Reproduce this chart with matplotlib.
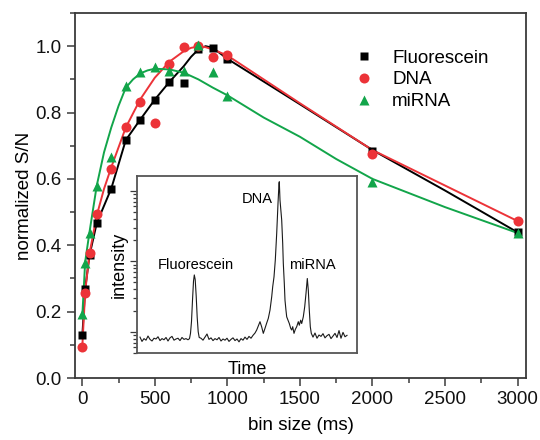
import matplotlib
matplotlib.use("Agg")
import matplotlib.pyplot as plt
from matplotlib.ticker import MultipleLocator, LogLocator, NullFormatter, NullLocator

plt.rcParams["font.family"] = ["Liberation Sans", "DejaVu Sans"]

# measured points (bin size in ms, normalized S/N)
fluo_x = [1, 20, 50, 100, 200, 300, 400, 500, 600, 700, 800, 900, 1000, 2000, 3000]
fluo_y = [0.131, 0.268, 0.37, 0.467, 0.571, 0.717, 0.779, 0.839, 0.892, 0.889, 0.99, 0.995, 0.960, 0.685, 0.439]
dna_x = [1, 20, 50, 100, 200, 300, 400, 500, 600, 700, 800, 900, 1000, 2000, 3000]
dna_y = [0.094, 0.255, 0.376, 0.493, 0.629, 0.755, 0.833, 0.767, 0.946, 0.998, 1.0, 0.967, 0.974, 0.675, 0.473]
mir_x = [1, 20, 50, 100, 200, 300, 400, 500, 600, 700, 800, 900, 1000, 2000, 3000]
mir_y = [0.193, 0.348, 0.436, 0.578, 0.666, 0.880, 0.922, 0.938, 0.925, 0.925, 1.003, 0.923, 0.850, 0.591, 0.437]

# fitted curves
fluo_fit_x = [1, 20, 50, 100, 200, 300, 400, 500, 600, 700, 750, 800, 850, 900, 1000, 1500, 2000, 2500, 3000]
fluo_fit_y = [0.131, 0.268, 0.37, 0.467, 0.571, 0.717, 0.779, 0.839, 0.892, 0.94, 0.968, 0.99, 1.0, 0.995, 0.962, 0.825, 0.687, 0.565, 0.439]
dna_fit_x = [1, 20, 50, 100, 150, 200, 300, 400, 500, 600, 700, 750, 800, 850, 900, 1000, 1500, 2000, 2500, 3000]
dna_fit_y = [0.10, 0.26, 0.375, 0.49, 0.57, 0.635, 0.755, 0.84, 0.905, 0.953, 0.985, 0.995, 0.999, 0.997, 0.99, 0.972, 0.828, 0.687, 0.58, 0.473]
mir_fit_x = [1, 20, 50, 100, 150, 200, 250, 300, 350, 400, 450, 500, 600, 700, 800, 900, 1000, 1250, 1500, 1750, 2000, 2500, 3000]
mir_fit_y = [0.193, 0.35, 0.44, 0.58, 0.68, 0.755, 0.82, 0.875, 0.90, 0.918, 0.927, 0.932, 0.93, 0.92, 0.90, 0.875, 0.852, 0.785, 0.727, 0.66, 0.60, 0.515, 0.437]

# inset electropherogram (arbitrary time units, intensity on log axis)
trace_t = [0.3, 0.5, 0.7, 0.9, 1.1, 1.3, 1.5, 1.7, 1.9, 2.1, 2.3, 2.5, 2.7, 2.9, 3.1, 3.3,
           3.5, 3.7, 3.9, 4.1, 4.3, 4.5, 4.7, 4.9, 5.1,
           5.25, 5.35, 5.45, 5.55, 5.65, 5.73, 5.82, 5.92, 6.02, 6.12, 6.22,
           6.4, 6.6, 6.8, 7.0, 7.2, 7.4, 7.6, 7.8, 8.0, 8.2, 8.4, 8.6, 8.8, 9.0, 9.2, 9.4,
           9.6, 9.8, 10.0, 10.2, 10.4, 10.6, 10.8, 11.0, 11.2, 11.4, 11.6,
           11.8, 11.97, 12.3, 12.47, 12.63, 12.8, 12.97, 13.13, 13.3, 13.47, 13.57, 13.7,
           13.83, 13.97, 14.1, 14.2, 14.23,
           14.3, 14.47, 14.57, 14.63, 14.73, 14.8, 14.9, 14.97, 15.1, 15.23, 15.37, 15.47,
           15.57, 15.7, 15.83, 15.97, 16.13, 16.23, 16.37, 16.47, 16.63, 16.77, 16.9, 17.03,
           17.13, 17.23, 17.33, 17.43,
           17.6, 17.8, 18.0, 18.2, 18.4, 18.6, 18.8, 19.0, 19.2, 19.4, 19.6, 19.8, 20.0,
           20.2, 20.4, 20.6, 20.8, 21.0]
trace_i = [8.4, 7.3, 8.0, 7.6, 8.7, 7.8, 7.4, 8.1, 7.9, 8.5, 7.5, 8.0, 7.7, 8.3, 7.4, 8.2,
           8.6, 7.6, 7.9, 8.1, 7.5, 8.3, 7.8, 8.0, 7.7,
           8.0, 9.5, 14, 28, 52, 64, 55, 32, 16, 10, 8.3,
           8.1, 7.6, 8.4, 9.3, 7.8, 8.2, 7.5, 8.0, 7.7, 8.3, 7.4, 7.9, 7.6, 8.1, 7.3, 7.8,
           8.2, 7.5, 7.9, 7.2, 8.0, 7.6, 8.4, 7.8, 8.6, 8.1, 8.9,
           9.6, 10.6, 13.9, 11.7, 9.5, 11.2, 13.3, 15.5, 20.3, 31.3, 43.5, 60,
           104, 249, 660, 1273, 1343,
           738, 384, 179, 94, 48.6, 28, 20, 16.3, 14.6, 13.1, 11.2, 10.6,
           11.8, 9.5, 10.8, 11.8, 13.9, 12.4, 14.6, 13.1, 16.3, 22.6, 35, 57,
           39, 20.3, 11.8, 9.5,
           8.4, 9.6, 8.1, 9.0, 8.6, 9.4, 8.2, 8.8, 9.2, 8.0, 8.7, 9.5, 8.3,
           10.4, 8.1, 9.8, 8.5, 8.9]

BLACK = "#000000"
RED = "#ec3338"
GREEN = "#12a54a"
SPINE = "#3a3a3a"

fig = plt.figure(figsize=(5.4, 4.4), dpi=100)
ax = fig.add_axes([75 / 540, 62 / 440, 451 / 540, 365 / 440])

ax.plot(fluo_fit_x, fluo_fit_y, color=BLACK, lw=1.4, zorder=2)
ax.plot(dna_fit_x, dna_fit_y, color=RED, lw=1.4, zorder=2)
ax.plot(mir_fit_x, mir_fit_y, color=GREEN, lw=1.4, zorder=2)
ax.plot(fluo_x, fluo_y, "s", color=BLACK, ms=6.3, mec="none", label="Fluorescein", zorder=3)
ax.plot(dna_x, dna_y, "o", color=RED, ms=7.2, mec="none", label="DNA", zorder=3)
ax.plot(mir_x, mir_y, "^", color=GREEN, ms=7.5, mec="none", label="miRNA", zorder=4)

ax.set_xlim(-50, 3058)
ax.set_ylim(0.0, 1.1)
ax.xaxis.set_major_locator(MultipleLocator(500))
ax.xaxis.set_minor_locator(MultipleLocator(250))
ax.yaxis.set_major_locator(MultipleLocator(0.2))
ax.yaxis.set_minor_locator(MultipleLocator(0.1))
ax.yaxis.set_major_formatter(plt.FuncFormatter(lambda v, p: f"{v:.1f}"))
ax.tick_params(which="both", direction="out", top=False, right=False,
               color=SPINE, width=1.1, labelsize=13.5, labelcolor="#111111")
ax.tick_params(which="major", length=6)
ax.tick_params(which="minor", length=3.5)
for s in ax.spines.values():
    s.set_color(SPINE)
    s.set_linewidth(1.3)
ax.set_xlabel("bin size (ms)", fontsize=13.5, labelpad=6)
ax.set_ylabel("normalized S/N", fontsize=13.5, labelpad=1.5)

ax.legend(loc="upper left", bbox_to_anchor=(0.62, 0.90), frameon=False,
          fontsize=13.5, handlelength=1.0, handletextpad=1.0, labelspacing=0.25,
          borderpad=0, borderaxespad=0)

# inset
axi = fig.add_axes([137 / 540, 87 / 440, 220 / 540, 177 / 440])
axi.plot(trace_t, trace_i, color="#1a1a1a", lw=0.8)
axi.set_yscale("log")
axi.set_xlim(0, 22)
axi.set_ylim(5.0, 1620)
axi.xaxis.set_major_locator(NullLocator())
axi.yaxis.set_major_locator(LogLocator(base=10, numticks=10))
axi.yaxis.set_minor_locator(LogLocator(base=10, subs=range(2, 10), numticks=10))
axi.yaxis.set_major_formatter(NullFormatter())
axi.yaxis.set_minor_formatter(NullFormatter())
axi.tick_params(which="both", direction="out", color=SPINE, width=0.9)
axi.tick_params(which="major", length=5)
axi.tick_params(which="minor", length=3)
for s in axi.spines.values():
    s.set_color("#555555")
    s.set_linewidth(1.3)
axi.set_ylabel("intensity", fontsize=13, labelpad=-2)
axi.set_xlabel("Time", fontsize=13, labelpad=6)
axi.text(5.9, 70, "Fluorescein", fontsize=10.5, ha="center", va="bottom")
axi.text(12.0, 600, "DNA", fontsize=10.5, ha="center", va="bottom")
axi.text(17.5, 70, "miRNA", fontsize=10.5, ha="center", va="bottom")

fig.savefig("out.png", dpi=100)
